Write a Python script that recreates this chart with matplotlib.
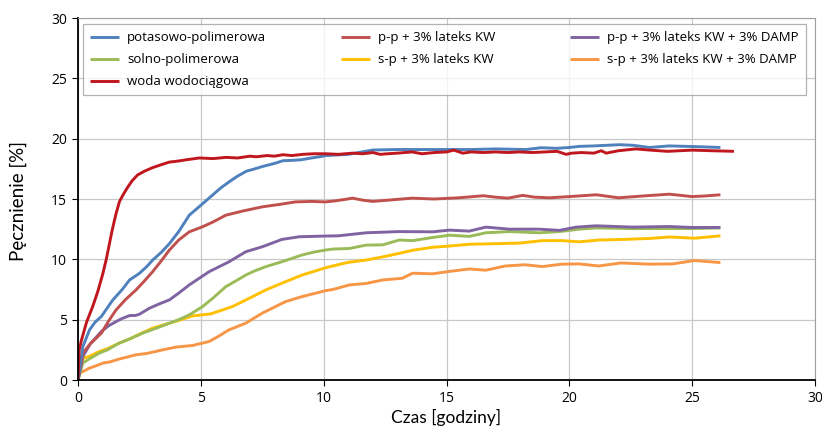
import matplotlib
matplotlib.use("Agg")
import matplotlib.pyplot as plt

# ---------------- data ----------------
woda_t = [0, 0.05, 0.14, 0.35, 0.6, 0.8, 1.01, 1.15, 1.28, 1.4, 1.55, 1.69, 1.85, 2.03, 2.2,
          2.43, 2.7, 3.04, 3.4, 3.72, 4.1, 4.4, 4.94, 5.5, 6.03, 6.5, 7.0, 7.25, 7.7, 8.0,
          8.34, 8.7, 9.15, 9.6, 10.1, 10.6, 11.18, 11.6, 12.0, 12.3, 12.6, 13.0, 13.6, 14.0, 14.5,
          15.0, 15.3, 15.66, 16.0, 16.5, 17.0, 17.5, 17.97, 18.5, 19.0, 19.5, 19.87, 20.1, 20.5, 21.0,
          21.3, 21.5, 22.0, 22.7, 23.3, 24.0, 25.0, 25.8, 26.7]
woda_v = [0, 2.5, 3.3, 4.8, 6.1, 7.3, 8.8, 10.0, 11.3, 12.5, 13.8, 14.8, 15.4, 16.0, 16.5,
          17.0, 17.3, 17.6, 17.85, 18.06, 18.15, 18.25, 18.4, 18.35, 18.45, 18.4, 18.55, 18.5, 18.6, 18.55,
          18.67, 18.6, 18.7, 18.75, 18.75, 18.7, 18.8, 18.75, 18.85, 18.7, 18.75, 18.8, 18.9, 18.75, 18.85,
          18.9, 19.05, 18.8, 18.9, 18.85, 18.9, 18.85, 18.9, 18.85, 18.9, 18.95, 18.7, 18.8, 18.85, 18.8,
          19.0, 18.8, 19.0, 19.15, 19.05, 18.95, 19.05, 19.0, 18.95]

pot_t = [0, 0.2, 0.47, 0.7, 0.95, 1.2, 1.42, 1.8, 2.1, 2.5, 2.8, 3.04, 3.4, 3.72, 4.1,
         4.53, 5.01, 5.49, 5.8, 6.17, 6.5, 6.85, 7.2, 7.52, 8.0, 8.34, 8.7, 9.08, 9.5, 9.83,
         10.1, 11.0, 12.0, 13.0, 14.0, 15.0, 16.0, 17.0, 18.24, 18.85, 19.5, 20.0, 20.4, 21.0, 22.04,
         22.6, 23.26, 24.07, 25.0, 26.15]
pot_v = [0, 2.78, 4.16, 4.8, 5.26, 6.0, 6.64, 7.5, 8.29, 8.84, 9.4, 9.94, 10.6, 11.3, 12.3,
         13.66, 14.5, 15.35, 15.9, 16.45, 16.9, 17.3, 17.5, 17.7, 17.95, 18.17, 18.2, 18.25, 18.4, 18.5,
         18.6, 18.7, 19.06, 19.1, 19.1, 19.1, 19.1, 19.15, 19.1, 19.25, 19.2, 19.27, 19.36, 19.4, 19.5,
         19.45, 19.27, 19.4, 19.35, 19.27]

pp_t = [0, 0.2, 0.5, 0.95, 1.25, 1.55, 1.95, 2.36, 2.7, 3.04, 3.4, 3.72, 4.1, 4.53, 5.07,
        5.5, 6.02, 6.7, 7.5, 8.2, 8.85, 9.5, 10.07, 10.5, 11.18, 11.6, 12.0, 12.6, 13.6, 14.5,
        15.5, 16.5, 17.0, 17.5, 18.1, 18.6, 19.2, 20.0, 21.1, 22.0, 23.0, 24.07, 25.0, 25.5, 26.15]
pp_v = [0, 2.23, 3.0, 3.88, 4.9, 5.81, 6.7, 7.46, 8.2, 8.98, 9.9, 10.77, 11.6, 12.28, 12.7,
        13.1, 13.66, 14.0, 14.35, 14.55, 14.76, 14.8, 14.76, 14.85, 15.07, 14.9, 14.8, 14.9, 15.07, 15.0,
        15.1, 15.27, 15.15, 15.07, 15.3, 15.15, 15.1, 15.2, 15.35, 15.1, 15.25, 15.4, 15.2, 15.25, 15.35]

ppd_t = [0, 0.2, 0.5, 0.95, 1.25, 1.55, 1.8, 2.1, 2.35, 2.5, 2.91, 3.3, 3.72, 4.1, 4.53,
         5.34, 6.15, 6.83, 7.5, 8.3, 9.0, 10.07, 10.6, 11.73, 13.08, 14.44, 15.12, 15.93, 16.6, 17.56,
         18.78, 19.6, 20.28, 21.09, 22.58, 24.07, 25.0, 26.15]
ppd_v = [0, 1.95, 3.0, 4.02, 4.5, 4.84, 5.1, 5.34, 5.35, 5.45, 5.95, 6.3, 6.64, 7.2, 7.88,
         8.98, 9.8, 10.63, 11.04, 11.65, 11.87, 11.93, 11.95, 12.2, 12.3, 12.28, 12.42, 12.34, 12.67, 12.5,
         12.5, 12.4, 12.67, 12.78, 12.67, 12.72, 12.64, 12.64]

sol_t = [0, 0.2, 0.5, 0.87, 1.2, 1.68, 2.1, 2.63, 3.2, 3.72, 4.1, 4.53, 5.07, 5.5, 6.02,
         6.5, 6.83, 7.2, 7.64, 8.3, 9.12, 9.6, 10.07, 10.37, 11.05, 11.73, 12.4, 13.08, 13.62, 14.4,
         15.12, 15.93, 16.6, 17.56, 18.78, 19.6, 20.4, 21.09, 22.58, 24.0, 25.0, 26.15]
sol_v = [0, 1.4, 1.8, 2.23, 2.5, 3.06, 3.4, 3.88, 4.3, 4.71, 5.0, 5.4, 6.08, 6.8, 7.74,
         8.3, 8.7, 9.05, 9.39, 9.8, 10.36, 10.6, 10.77, 10.85, 10.9, 11.18, 11.2, 11.6, 11.55, 11.8,
         12.0, 11.9, 12.2, 12.3, 12.2, 12.3, 12.5, 12.6, 12.55, 12.55, 12.55, 12.6]

sp_t = [0, 0.2, 0.5, 0.87, 1.2, 1.68, 2.1, 2.5, 3.04, 3.72, 4.2, 4.66, 5.4, 5.8, 6.28,
        6.9, 7.64, 8.45, 9.12, 9.6, 10.07, 10.37, 11.0, 11.73, 12.4, 13.08, 13.62, 14.44, 15.12, 15.93,
        17.1, 18.0, 18.9, 19.7, 20.4, 21.2, 22.2, 23.26, 24.07, 25.1, 26.15]
sp_v = [0, 1.78, 2.0, 2.36, 2.6, 3.06, 3.4, 3.8, 4.3, 4.71, 5.0, 5.31, 5.48, 5.75, 6.08,
        6.7, 7.46, 8.15, 8.7, 9.0, 9.3, 9.45, 9.75, 9.94, 10.2, 10.5, 10.75, 11.0, 11.1, 11.25,
        11.3, 11.35, 11.55, 11.55, 11.45, 11.6, 11.65, 11.73, 11.85, 11.75, 11.95]

spd_t = [0, 0.07, 0.2, 0.47, 0.7, 1.01, 1.3, 1.68, 2.0, 2.36, 2.8, 3.45, 3.99, 4.66, 5.34,
         5.7, 6.15, 6.83, 7.5, 8.45, 9.12, 10.07, 10.37, 11.05, 11.73, 12.4, 13.2, 13.62, 14.44, 15.12,
         15.93, 16.6, 17.4, 18.2, 18.9, 19.7, 20.4, 21.2, 22.1, 23.26, 24.2, 25.1, 26.15]
spd_v = [0, 0.58, 0.7, 0.99, 1.15, 1.4, 1.5, 1.74, 1.9, 2.09, 2.2, 2.5, 2.73, 2.86, 3.19,
         3.6, 4.16, 4.71, 5.54, 6.5, 6.91, 7.4, 7.5, 7.88, 8.0, 8.29, 8.43, 8.85, 8.8, 9.0,
         9.2, 9.1, 9.45, 9.55, 9.4, 9.6, 9.62, 9.45, 9.7, 9.6, 9.62, 9.9, 9.73]

labels = ["potasowo-polimerowa", "solno-polimerowa", "woda wodociągowa",
          "p-p + 3% lateks KW", "s-p + 3% lateks KW",
          "p-p + 3% lateks KW + 3% DAMP", "s-p + 3% lateks KW + 3% DAMP"]
x_ticks = [0, 5, 10, 15, 20, 25, 30]
y_ticks = [0, 5, 10, 15, 20, 25, 30]
x_label = "Czas [godziny]"
y_label = "Pęcznienie [%]"

# ---------------- style ----------------
plt.rcParams['font.family'] = ['Open Sans', 'DejaVu Sans']
colors = {
    "pot": "#4F81BD", "sol": "#9BBB59", "woda": "#C0171F",
    "pp": "#C0504D", "sp": "#FFC000", "ppd": "#8064A2", "spd": "#F79646",
}

fig = plt.figure(figsize=(8.22, 4.32), dpi=100)
ax = fig.add_axes([78 / 822, 1 - 380 / 432, 737 / 822, 362 / 432])

lw = 2.1
series = [
    ("spd", spd_t, spd_v, labels[6]),
    ("sp", sp_t, sp_v, labels[4]),
    ("sol", sol_t, sol_v, labels[1]),
    ("ppd", ppd_t, ppd_v, labels[5]),
    ("pp", pp_t, pp_v, labels[3]),
    ("pot", pot_t, pot_v, labels[0]),
    ("woda", woda_t, woda_v, labels[2]),
]
handles = {}
for key, t, v, lab in series:
    ln, = ax.plot(t, v, color=colors[key], lw=lw, label=lab, solid_capstyle='butt')
    handles[lab] = ln

ax.set_xlim(0, 30)
ax.set_ylim(0, 30)
ax.set_xticks(x_ticks)
ax.set_yticks(y_ticks)
ax.grid(True, color="#C8C8C8", lw=0.9)
ax.set_axisbelow(True)
for s in ("top", "right"):
    ax.spines[s].set_color("#A0A0A0")
for s in ("left", "bottom"):
    ax.spines[s].set_color("black")
    ax.spines[s].set_linewidth(1.3)
ax.tick_params(axis='both', direction='out', length=4, width=0.8, labelsize=10, pad=4)

ax.set_xlabel(x_label, family=['Lato', 'DejaVu Sans'], fontsize=12.5)
ax.set_ylabel(y_label, family=['Lato', 'DejaVu Sans'], fontsize=13.5)
ax.xaxis.set_label_coords(0.5, (380 - 409) / 362)
ax.yaxis.set_label_coords((27 - 78) / 737, (380 - 201) / 362)

leg = ax.legend([handles[l] for l in labels], labels, ncol=3, mode="expand",
                loc="upper left", bbox_to_anchor=(5 / 737, 0, 723 / 737, 356 / 362),
                fontsize=9.5, frameon=True, fancybox=False, edgecolor="#A0A0A0",
                handlelength=2.2, handletextpad=0.6, labelspacing=0.68,
                borderpad=0.55, borderaxespad=0)
leg.get_frame().set_linewidth(0.9)

fig.savefig("out.png", dpi=100)
